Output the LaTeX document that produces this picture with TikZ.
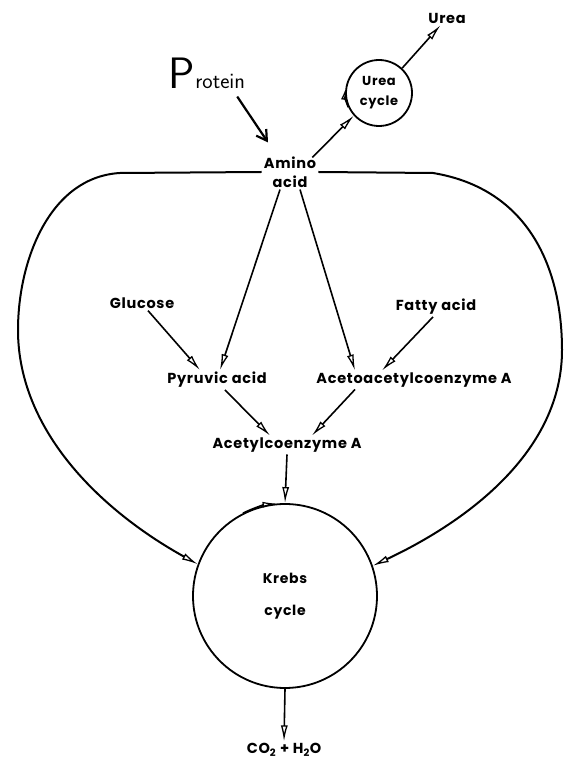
\documentclass[tikz,border=0pt]{standalone}
\usepackage{fontspec}
\setmainfont[LetterSpace=5]{Poppins}
\usetikzlibrary{arrows.meta,calc}
\begin{document}
\begin{tikzpicture}[x=1pt,y=1pt,
  lbl/.style={font=\fontsize{14.5}{19}\selectfont\bfseries, inner sep=2pt, align=center},
  conn/.style={line width=1.6pt, -{Latex[open,length=16pt,width=7pt,line width=1.3pt]}},
  bigloop/.style={line width=2pt, -{Latex[open,length=16pt,width=7pt,line width=1.3pt]}},
  ring/.style={draw, circle, line width=1.8pt, inner sep=0pt, align=center},
]
\useasboundingbox (0,0) rectangle (566,761);

% nodes
\node[lbl] (urea) at (447,743) {Urea};
\node[ring, minimum size=66pt, font=\fontsize{13}{20}\selectfont\bfseries] (ureacyc) at (379,668) {Urea\\cycle};
\node[inner sep=1pt] (protein) at (207,688) {\sffamily{\fontsize{44}{44}\selectfont P}{\fontsize{22}{22}\selectfont rotein}};
\node[lbl] (amino) at (290,589) {Amino\\acid};
\node[lbl] (glucose) at (142,458) {Glucose};
\node[lbl] (fatty) at (436,454) {Fatty acid};
\node[lbl] (pyruvic) at (217,381) {Pyruvic acid};
\node[lbl] (aceto) at (414,381) {Acetoacetylcoenzyme A};
\node[lbl] (acetyl) at (287,316) {Acetylcoenzyme A};
\node[ring, minimum size=184pt, font=\fontsize{14}{32}\selectfont\bfseries] (krebs) at (285,165) {Krebs\\cycle};
\node[lbl] (co2) at (284,11) {CO\textsubscript{2} + H\textsubscript{2}O};

% protein arrow
\draw[line width=2.2pt, -{Straight Barb[length=10pt,width=12pt]}] ($(protein.south east)+(-9,-7)$) -- ($(amino.north)+(-22,12)$);

% urea cycle arrows
\draw[conn] ($(amino.north east)+(-6,-3)$) -- (ureacyc.222);
\draw[conn] (ureacyc.47) -- (urea);
\draw[line width=1.5pt, -{Latex[open,length=11pt,width=6pt,line width=1.2pt]}] (ureacyc.205) arc[start angle=205, end angle=172, radius=33pt];

% big loops
\draw[bigloop] (amino.west) -- (120,588) .. controls (50,584) and (18,501) .. (18,431) .. controls (18,331) and (100,251) .. (krebs.160);
\draw[bigloop] (amino.east) -- (433,588) .. controls (530,572) and (562,491) .. (562,411) .. controls (562,311) and (470,241) .. (krebs.19);

% central arrows
\draw[conn] ($(amino.south)+(-10,0)$) -- ($(pyruvic.north)+(3,0)$);
\draw[conn] ($(amino.south)+(10,0)$) -- ($(aceto.north)+(-59,0)$);
\draw[conn] ($(glucose.south)+(6,0)$) -- ($(pyruvic.north)+(-17,0)$);
\draw[conn] ($(fatty.south)+(-3,0)$) -- ($(aceto.north)+(-32,0)$);
\draw[conn] ($(pyruvic.south)+(8,0)$) -- ($(acetyl.north)+(-17,0)$);
\draw[conn] ($(aceto.south)+(-59,0)$) -- ($(acetyl.north)+(25,0)$);
\draw[conn] (acetyl.south) -- (krebs.north);
\draw[line width=1.5pt, -{Latex[open,length=14pt,width=6pt,line width=1.2pt]}] (krebs.117) arc[start angle=117, end angle=95, radius=92pt];
\draw[conn] (krebs.south) -- (co2.north);
\end{tikzpicture}
\end{document}
